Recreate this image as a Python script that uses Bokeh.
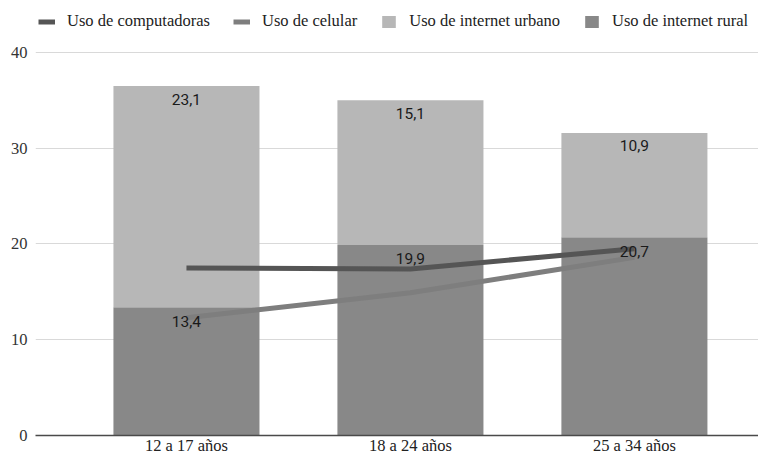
from bokeh.plotting import figure
from bokeh.models import (ColumnDataSource, Range1d, FixedTicker, Legend, LegendItem)
from bokeh.core.properties import value
from bokeh.embed import file_html
from bokeh.resources import INLINE

categories = ["12 a 17 años", "18 a 24 años", "25 a 34 años"]
rural = [13.4, 19.9, 20.7]
urbano = [23.1, 15.1, 10.9]
computadoras = [17.5, 17.4, 19.5]
celular = [12.3, 14.9, 18.6]
y_ticks = [0, 10, 20, 30, 40]

xs = [i + 1 for i in range(len(categories))]
total = [r + u for r, u in zip(rural, urbano)]

def fmt(v):
    return ("%.1f" % v).replace(".", ",")

src = ColumnDataSource(dict(
    x=xs, rural=rural, urbano=urbano, total=total,
    comp=computadoras, cel=celular,
    rural_lbl=[fmt(v) for v in rural], urb_lbl=[fmt(v) for v in urbano],
))

SERIF = "Liberation Serif"

p = figure(width=758, height=457, output_backend="svg", toolbar_location=None,
           x_range=Range1d(0.326, 3.554), y_range=Range1d(0, 45.43),
           min_border_left=35, min_border_right=0, min_border_top=0, min_border_bottom=0)
p.outline_line_color = None
p.background_fill_color = "white"
p.border_fill_color = "white"

bars = p.vbar_stack(["rural", "urbano"], x="x", width=0.652, source=src,
                    color=["#888888", "#b7b7b7"], line_color=None)

l_comp = p.line("x", "comp", source=src, line_color="#555555", line_width=5)
l_cel = p.line("x", "cel", source=src, line_color="#7e7e7e", line_width=5)

p.text("x", "rural", text="rural_lbl", source=src, text_align="center",
       text_baseline="middle", y_offset=14, text_font=value("Roboto"),
       text_font_size="15.5px", text_color="#1a1a1a")
p.text("x", "total", text="urb_lbl", source=src, text_align="center",
       text_baseline="middle", y_offset=13, text_font=value("Roboto"),
       text_font_size="15.5px", text_color="#1a1a1a")

# axes
p.xaxis.ticker = FixedTicker(ticks=xs)
p.xaxis.major_label_overrides = {x: c for x, c in zip(xs, categories)}
p.xaxis.major_label_text_font = SERIF
p.xaxis.major_label_text_font_size = "16.5px"
p.xaxis.major_label_text_color = "#222222"
p.xaxis.major_tick_line_color = None
p.xaxis.major_tick_out = 0
p.xaxis.major_tick_in = 0
p.xaxis.minor_tick_line_color = None
p.xaxis.major_label_standoff = 0
p.xaxis.axis_line_color = "#4a4a4a"
p.xaxis.axis_line_width = 1.5

p.yaxis.ticker = FixedTicker(ticks=y_ticks)
p.yaxis.major_label_text_font = SERIF
p.yaxis.major_label_text_font_size = "16.5px"
p.yaxis.major_label_text_color = "#333333"
p.yaxis.axis_line_color = None
p.yaxis.major_tick_line_color = None
p.yaxis.major_tick_out = 0
p.yaxis.major_tick_in = 0
p.yaxis.minor_tick_line_color = None
p.yaxis.major_label_standoff = 8

p.xgrid.grid_line_color = None
p.ygrid.grid_line_color = "#d9d9d9"
p.ygrid.grid_line_width = 1

legend = Legend(items=[
    LegendItem(label="Uso de computadoras", renderers=[l_comp]),
    LegendItem(label="Uso de celular", renderers=[l_cel]),
    LegendItem(label="Uso de internet urbano", renderers=[bars[1]]),
    LegendItem(label="Uso de internet rural", renderers=[bars[0]]),
], orientation="horizontal", location=(3, 404))
legend.glyph_width = 17
legend.glyph_height = 15
legend.label_standoff = 12
legend.spacing = 23
legend.padding = 0
legend.margin = 0
legend.label_text_font = SERIF
legend.label_text_font_size = "16.5px"
legend.label_text_color = "#222222"
legend.label_text_baseline = "middle"
legend.label_height = 15
legend.border_line_color = None
legend.background_fill_alpha = 0
p.add_layout(legend)

open("out.html", "w").write(file_html(p, INLINE))
